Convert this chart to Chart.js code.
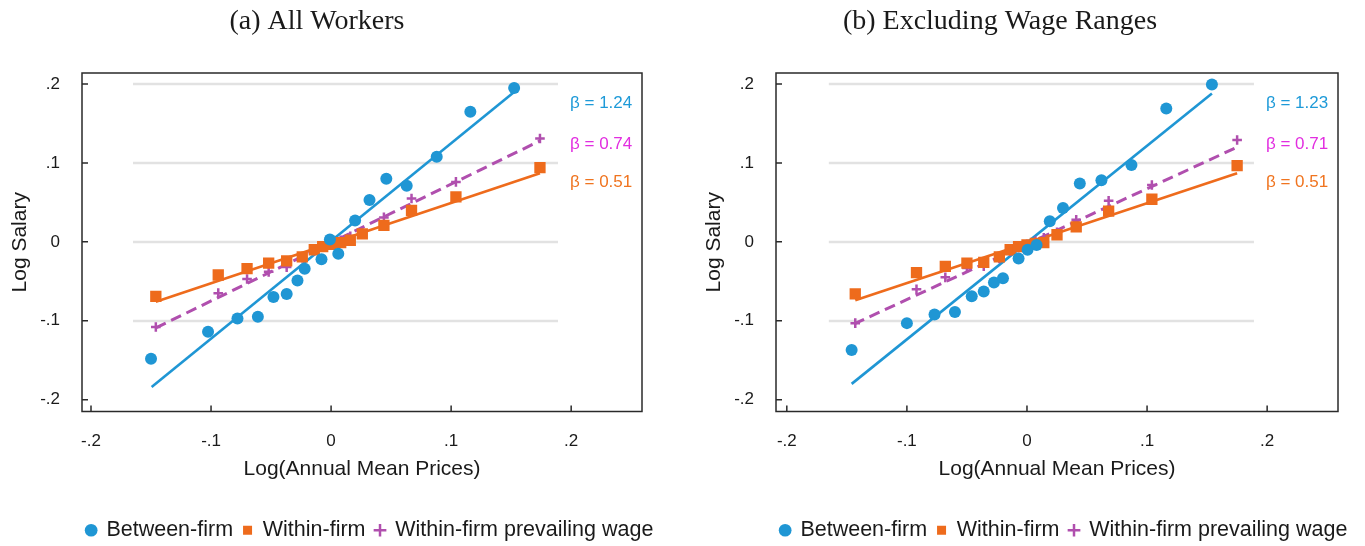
<!DOCTYPE html>
<html>
<head>
<meta charset="utf-8">
<script src="https://cdn.jsdelivr.net/npm/chart.js@4.4.1/dist/chart.umd.min.js"></script>
<style>
  html, body { margin:0; padding:0; background:#fff; overflow:hidden; }
  #wrap { position:relative; width:1365px; height:546px; }
  #wrap canvas { position:absolute; top:0; }
</style>
</head>
<body>
<div id="wrap">
  <canvas id="panelA" width="740" height="546" style="left:0"></canvas>
  <canvas id="panelB" width="740" height="546" style="left:694px"></canvas>
</div>
<script>
// ---- data ----
const seriesNames = ['Between-firm', 'Within-firm', 'Within-firm prevailing wage'];
const xTicks = [-0.2, -0.1, 0, 0.1, 0.2];
const yTicks = [-0.2, -0.1, 0, 0.1, 0.2];
const gridVals = [0.2, 0.1, 0, -0.1];

// (a) All Workers
const betweenX_a = [-0.150, -0.1025, -0.078, -0.061, -0.048, -0.037, -0.028, -0.022, -0.008, -0.001, 0.006, 0.020, 0.032, 0.046, 0.063, 0.088, 0.116, 0.1525];
const betweenY_a = [-0.148, -0.114, -0.097, -0.095, -0.070, -0.066, -0.049, -0.034, -0.022, 0.003, -0.015, 0.027, 0.053, 0.080, 0.071, 0.108, 0.165, 0.195];
const withinX_a  = [-0.146, -0.094, -0.070, -0.052, -0.037, -0.024, -0.014, -0.007, 0.000, 0.008, 0.016, 0.026, 0.044, 0.067, 0.104, 0.174];
const withinY_a  = [-0.069, -0.042, -0.034, -0.027, -0.024, -0.019, -0.010, -0.006, -0.003, -0.001, 0.002, 0.010, 0.021, 0.040, 0.057, 0.094];
const prevailY_a = [-0.108, -0.065, -0.047, -0.038, -0.032, -0.020, -0.011, -0.006, -0.002, 0.002, 0.007, 0.013, 0.031, 0.055, 0.076, 0.131];
const fitBetween_a = { x: [-0.1495, 0.1525], y: [-0.184, 0.190] };
const fitWithin_a  = { x: [-0.146, 0.174],   y: [-0.076, 0.087] };
const fitPrevail_a = { x: [-0.146, 0.174],   y: [-0.109, 0.128] };
const betas_a = ['1.24', '0.74', '0.51'];

// (b) Excluding Wage Ranges
const betweenX_b = [-0.146, -0.100, -0.077, -0.060, -0.046, -0.036, -0.0275, -0.020, -0.007, 0.0005, 0.008, 0.019, 0.030, 0.044, 0.062, 0.087, 0.116, 0.154];
const betweenY_b = [-0.137, -0.103, -0.092, -0.089, -0.069, -0.063, -0.0515, -0.046, -0.021, -0.010, -0.004, 0.026, 0.043, 0.074, 0.078, 0.0975, 0.169, 0.1995];
const withinX_b  = [-0.143, -0.092, -0.068, -0.050, -0.036, -0.023, -0.014, -0.007, 0.000, 0.007, 0.014, 0.025, 0.041, 0.068, 0.104, 0.175];
const withinY_b  = [-0.066, -0.039, -0.031, -0.027, -0.026, -0.019, -0.010, -0.006, -0.004, -0.002, -0.001, 0.009, 0.019, 0.039, 0.054, 0.0965];
const prevailY_b = [-0.103, -0.060, -0.045, -0.033, -0.031, -0.021, -0.012, -0.007, -0.003, 0.001, 0.005, 0.012, 0.028, 0.052, 0.072, 0.129];
const fitBetween_b = { x: [-0.146, 0.154], y: [-0.180, 0.188] };
const fitWithin_b  = { x: [-0.143, 0.175], y: [-0.074, 0.087] };
const fitPrevail_b = { x: [-0.144, 0.175], y: [-0.104, 0.120] };
const betas_b = ['1.23', '0.71', '0.51'];

// ---- styling ----
const BLUE = '#1f96d4', ORANGE = '#ee6b1c', PURPLE = '#b04fae';
const BETA_COLORS = ['#1e9ad8', '#e22ee0', '#f0741f'];
const SANS = '"Liberation Sans", Arial, sans-serif';
const INK = '#1a1a1a';

const pts = (xs, ys) => xs.map((x, i) => ({ x, y: ys[i] }));
const fmtTick = v => String(v).replace('0.', '.');

const panelDecor = {
  id: 'panelDecor',
  beforeDatasetsDraw(chart, args, o) {
    const { ctx, scales: { x, y } } = chart;
    const gx0 = x.getPixelForValue(o.gridFrom), gx1 = x.getPixelForValue(o.gridTo);
    ctx.save();
    ctx.strokeStyle = '#e2e2e2';
    ctx.lineWidth = 2.5;
    gridVals.forEach(v => {
      const py = Math.round(y.getPixelForValue(v));
      ctx.beginPath(); ctx.moveTo(gx0, py); ctx.lineTo(gx1, py); ctx.stroke();
    });
    ctx.restore();
  },
  afterDraw(chart, args, o) {
    const { ctx, chartArea: a, scales: { x, y } } = chart;
    ctx.save();
    // frame + inward ticks
    ctx.strokeStyle = '#2a2a2a';
    ctx.lineWidth = 1.5;
    ctx.strokeRect(a.left, a.top, a.right - a.left, a.bottom - a.top);
    ctx.beginPath();
    xTicks.forEach(v => { const px = x.getPixelForValue(v); ctx.moveTo(px, a.bottom); ctx.lineTo(px, a.bottom - 6); });
    yTicks.forEach(v => { const py = y.getPixelForValue(v); ctx.moveTo(a.left, py); ctx.lineTo(a.left + 6, py); });
    ctx.stroke();
    // beta labels
    ctx.font = '17px ' + SANS;
    ctx.textAlign = 'left';
    ctx.textBaseline = 'middle';
    o.betas.forEach((b, i) => {
      ctx.fillStyle = BETA_COLORS[i];
      ctx.fillText('\u03B2 = ' + b, x.getPixelForValue(o.betaX), y.getPixelForValue(o.betaY[i]));
    });
    // panel title
    ctx.font = '28px "Liberation Serif", "Times New Roman", serif';
    ctx.fillStyle = INK;
    ctx.textAlign = 'center';
    ctx.fillText(o.title, o.titleX, 22);
    ctx.restore();
  }
};

function makePanel(id, p) {
  const datasets = [
    { label: seriesNames[0], data: pts(p.bx, p.by), pointStyle: 'circle', pointRadius: 6,
      backgroundColor: BLUE, borderColor: BLUE, borderWidth: 0 },
    { label: seriesNames[1], data: pts(p.wx, p.wy), pointStyle: 'rect', pointRadius: 8,
      backgroundColor: ORANGE, borderColor: ORANGE, borderWidth: 0 },
    { label: seriesNames[2], data: pts(p.wx, p.py), pointStyle: 'cross', pointRadius: 4.8,
      backgroundColor: PURPLE, borderColor: PURPLE, borderWidth: 2.5 },
    { label: 'fitB', data: pts(p.fb.x, p.fb.y), showLine: true, pointRadius: 0, borderColor: BLUE, borderWidth: 2.6 },
    { label: 'fitW', data: pts(p.fw.x, p.fw.y), showLine: true, pointRadius: 0, borderColor: ORANGE, borderWidth: 2.6 },
    { label: 'fitP', data: pts(p.fp.x, p.fp.y), showLine: true, pointRadius: 0, borderColor: PURPLE, borderWidth: 3, borderDash: [11, 6] }
  ];
  return new Chart(document.getElementById(id), {
    type: 'scatter',
    data: { datasets },
    plugins: [panelDecor],
    options: {
      responsive: false,
      animation: false,
      events: [],
      layout: { padding: { top: 73, left: 0, right: 0, bottom: -5 } },
      scales: {
        x: {
          type: 'linear', position: 'bottom', min: p.xMin, max: p.xMax,
          grid: { display: false }, border: { display: false },
          afterBuildTicks: s => { s.ticks = xTicks.map(v => ({ value: v })); },
          ticks: { callback: fmtTick, color: INK, font: { family: SANS, size: 17 }, padding: 12, autoSkip: false, maxRotation: 0 },
          title: { display: true, text: 'Log(Annual Mean Prices)', color: INK, font: { family: SANS, size: 21 }, padding: { top: 0, bottom: 28 } },
          afterFit: s => { s.height = 98; }
        },
        y: {
          type: 'linear', position: 'left', min: -0.215, max: 0.214,
          grid: { display: false }, border: { display: false },
          afterBuildTicks: s => { s.ticks = yTicks.map(v => ({ value: v })); },
          ticks: { callback: fmtTick, color: INK, font: { family: SANS, size: 17 }, padding: 14 },
          title: { display: true, text: 'Log Salary', color: INK, font: { family: SANS, size: 21 }, padding: { top: 8, bottom: 0 } },
          afterFit: s => { s.width = 82; }
        },
        yPad: {
          type: 'linear', position: 'right', display: true,
          grid: { display: false }, border: { display: false }, ticks: { display: false },
          afterFit: s => { s.width = p.rightPad; }
        }
      },
      plugins: {
        tooltip: { enabled: false },
        legend: {
          position: 'bottom',
          labels: {
            usePointStyle: true, boxWidth: 9, boxHeight: 9, padding: 10,
            color: INK, font: { family: SANS, size: 21.5 },
            filter: item => item.datasetIndex < 3
          }
        },
        panelDecor: {
          title: p.title, titleX: p.titleX,
          gridFrom: -0.165, gridTo: 0.189,
          betas: p.betas, betaX: 0.199, betaY: [0.176, 0.124, 0.075]
        }
      }
    }
  });
}

makePanel('panelA', {
  title: '(a) All Workers', titleX: 317, xMin: -0.2075, xMax: 0.259, rightPad: 98,
  bx: betweenX_a, by: betweenY_a, wx: withinX_a, wy: withinY_a, py: prevailY_a,
  fb: fitBetween_a, fw: fitWithin_a, fp: fitPrevail_a, betas: betas_a
});
makePanel('panelB', {
  title: '(b) Excluding Wage Ranges', titleX: 306, xMin: -0.209, xMax: 0.259, rightPad: 96,
  bx: betweenX_b, by: betweenY_b, wx: withinX_b, wy: withinY_b, py: prevailY_b,
  fb: fitBetween_b, fw: fitWithin_b, fp: fitPrevail_b, betas: betas_b
});
</script>
</body>
</html>
